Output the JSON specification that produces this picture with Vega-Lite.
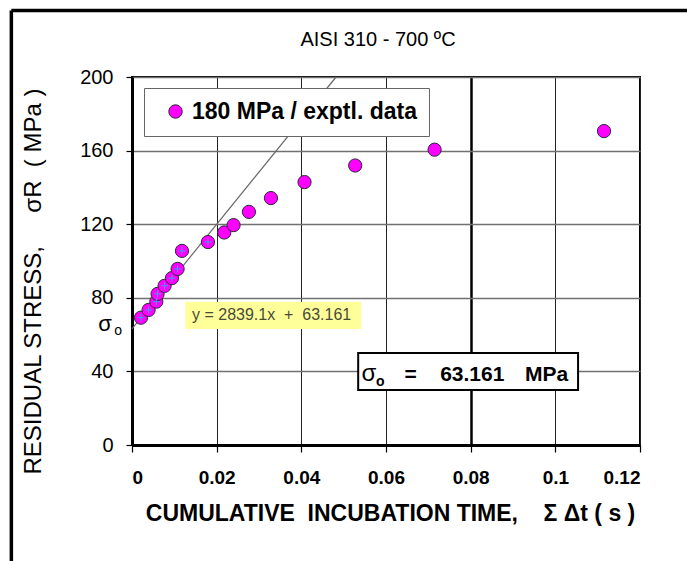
{
  "$schema": "https://vega.github.io/schema/vega-lite/v6.json",
  "width": 508,
  "height": 368,
  "autosize": "none",
  "padding": {"left": 132, "top": 77, "right": 47, "bottom": 116},
  "background": "white",
  "title": {"text": "AISI 310 - 700 ºC", "font": "Liberation Sans", "fontSize": 20, "fontWeight": "normal", "color": "black", "frame": "group", "anchor": "middle", "baseline": "middle", "offset": 0, "dx": -8, "dy": 51},
  "config": {"view": {"stroke": "black", "strokeWidth": 2}, "font": "Liberation Sans"},
  "datasets": {
    "pts": [
      {"t": 0.00212, "s": 69.2, "fit": true, "series": "180 MPa / exptl. data"},
      {"t": 0.00392, "s": 73.4, "fit": true, "series": "180 MPa / exptl. data"},
      {"t": 0.00574, "s": 77.9, "fit": true, "series": "180 MPa / exptl. data"},
      {"t": 0.00604, "s": 82.1, "fit": true, "series": "180 MPa / exptl. data"},
      {"t": 0.0077, "s": 86.5, "fit": true, "series": "180 MPa / exptl. data"},
      {"t": 0.00944, "s": 90.7, "fit": true, "series": "180 MPa / exptl. data"},
      {"t": 0.01077, "s": 95.7, "fit": true, "series": "180 MPa / exptl. data"},
      {"t": 0.0118, "s": 105.5, "fit": true, "series": "180 MPa / exptl. data"},
      {"t": 0.01794, "s": 110.3, "fit": true, "series": "180 MPa / exptl. data"},
      {"t": 0.02179, "s": 115.5, "fit": false, "series": "180 MPa / exptl. data"},
      {"t": 0.02399, "s": 119.5, "fit": false, "series": "180 MPa / exptl. data"},
      {"t": 0.02762, "s": 126.7, "fit": false, "series": "180 MPa / exptl. data"},
      {"t": 0.03282, "s": 134.2, "fit": false, "series": "180 MPa / exptl. data"},
      {"t": 0.04075, "s": 142.9, "fit": false, "series": "180 MPa / exptl. data"},
      {"t": 0.05272, "s": 151.9, "fit": false, "series": "180 MPa / exptl. data"},
      {"t": 0.07148, "s": 160.5, "fit": false, "series": "180 MPa / exptl. data"},
      {"t": 0.1115, "s": 170.6, "fit": false, "series": "180 MPa / exptl. data"}
    ],
    "trend": [
      {"t": 0, "s": 63.161},
      {"t": 0.0482, "s": 200}
    ],
    "one": [{}]
  },
  "layer": [
    {
      "data": {"name": "one"},
      "mark": {"type": "rule", "color": "black", "strokeWidth": 3.5},
      "encoding": {
        "x": {"datum": -0.0285, "type": "quantitative", "scale": {"domain": [0, 0.12], "nice": false}},
        "y": {"datum": -70, "type": "quantitative", "scale": {"domain": [0, 200], "nice": false}},
        "y2": {"datum": 236.1}
      }
    },
    {
      "data": {"name": "one"},
      "mark": {"type": "rule", "color": "black", "strokeWidth": 3.5},
      "encoding": {
        "x": {"datum": -0.0285, "type": "quantitative", "scale": {"domain": [0, 0.12], "nice": false}},
        "x2": {"datum": 0.2},
        "y": {"datum": 236.1, "type": "quantitative", "scale": {"domain": [0, 200], "nice": false}}
      }
    },
    {
      "data": {"name": "trend"},
      "mark": {"type": "line", "color": "#6a6a6a", "strokeWidth": 1.2},
      "encoding": {
        "x": {"field": "t", "type": "quantitative", "scale": {"domain": [0, 0.12], "nice": false}},
        "y": {"field": "s", "type": "quantitative", "scale": {"domain": [0, 200], "nice": false}}
      }
    },
    {
      "data": {"name": "pts"},
      "mark": {"type": "point", "shape": "circle", "filled": true, "opacity": 1, "size": 175, "stroke": "#2a2a3a", "strokeWidth": 1},
      "encoding": {
        "x": {
          "field": "t", "type": "quantitative",
          "scale": {"domain": [0, 0.12], "nice": false},
          "axis": {
            "values": [0, 0.02, 0.04, 0.06, 0.08, 0.1, 0.12],
            "format": "~g",
            "grid": true,
            "gridColor": {"condition": {"test": "datum.value == 0.08", "value": "black"}, "value": "#222222"},
            "gridWidth": {"condition": {"test": "datum.value == 0.08", "value": 2.5}, "value": 1},
            "domainColor": "black", "domainWidth": 3,
            "tickColor": "black", "tickSize": 7, "tickWidth": 1.2,
            "labelFont": "Liberation Sans", "labelFontSize": 19, "labelFontWeight": "bold", "labelColor": "black", "labelPadding": 16,
            "title": "CUMULATIVE\u00a0\u00a0INCUBATION TIME,\u00a0\u00a0\u00a0\u00a0Σ\u00a0Δt ( s )",
            "titleFont": "Liberation Sans", "titleFontSize": 23, "titleFontWeight": "bold", "titleColor": "black",
            "titleX": 258, "titleY": 68, "titleAlign": "center", "titleBaseline": "middle"
          }
        },
        "y": {
          "field": "s", "type": "quantitative",
          "scale": {"domain": [0, 200], "nice": false},
          "axis": {
            "values": [0, 20, 40, 60, 80, 100, 120, 140, 160, 180, 200],
            "labelExpr": "datum.value % 40 == 0 ? datum.label : ''",
            "tickOpacity": {"condition": {"test": "datum.value % 40 == 0", "value": 1}, "value": 0},
            "grid": true, "gridColor": "#707070", "gridWidth": 1.5,
            "domainColor": "black", "domainWidth": 3,
            "tickColor": "black", "tickSize": 6, "tickWidth": 1.2,
            "labelFont": "Liberation Sans", "labelFontSize": 20, "labelColor": "black", "labelPadding": 13,
            "title": "RESIDUAL STRESS,\u00a0\u00a0\u00a0\u00a0\u00a0σR\u00a0\u00a0( MPa )",
            "titleFont": "Liberation Sans", "titleFontSize": 24, "titleFontWeight": "normal", "titleColor": "black",
            "titleX": -99, "titleY": 204, "titleAngle": -90, "titleAlign": "center", "titleBaseline": "middle"
          }
        },
        "color": {
          "field": "series", "type": "nominal",
          "scale": {"range": ["#ff00ff"]},
          "legend": {
            "title": null, "orient": "none", "legendX": 12, "legendY": 11,
            "padding": 12, "fillColor": "white", "strokeColor": "#666666",
            "symbolType": "circle", "symbolSize": 180, "symbolStrokeColor": "#2a2a3a", "symbolStrokeWidth": 1, "symbolOffset": 8,
            "labelFont": "Liberation Sans", "labelFontSize": 23, "labelFontWeight": "bold", "labelColor": "black", "labelOffset": 5, "labelLimit": 400
          }
        }
      }
    },
    {
      "data": {"name": "pts"},
      "transform": [{"filter": "datum.fit"}],
      "mark": {"type": "point", "shape": "M-1,0L1,0M0,-1L0,1", "filled": false, "stroke": "#3b9cff", "strokeWidth": 1, "size": 50, "opacity": 1},
      "encoding": {
        "x": {"field": "t", "type": "quantitative", "scale": {"domain": [0, 0.12], "nice": false}},
        "y": {"field": "s", "type": "quantitative", "scale": {"domain": [0, 200], "nice": false}}
      }
    },
    {
      "data": {"name": "one"},
      "mark": {"type": "rect", "fill": "#ffff99"},
      "encoding": {
        "x": {"datum": 0.01258, "type": "quantitative", "scale": {"domain": [0, 0.12], "nice": false}},
        "x2": {"datum": 0.05413},
        "y": {"datum": 63.1, "type": "quantitative", "scale": {"domain": [0, 200], "nice": false}},
        "y2": {"datum": 77.8}
      }
    },
    {
      "data": {"name": "one"},
      "mark": {"type": "text", "text": "y = 2839.1x\u00a0\u00a0+\u00a0\u00a063.161", "font": "Liberation Sans", "fontSize": 16, "color": "#4a4a38", "align": "center", "baseline": "middle"},
      "encoding": {
        "x": {"datum": 0.03298, "type": "quantitative"},
        "y": {"datum": 70.4, "type": "quantitative"}
      }
    },
    {
      "data": {"name": "one"},
      "mark": {"type": "rect", "fill": "white", "stroke": "black", "strokeWidth": 2},
      "encoding": {
        "x": {"datum": 0.05343, "type": "quantitative", "scale": {"domain": [0, 0.12], "nice": false}},
        "x2": {"datum": 0.10537},
        "y": {"datum": 29.9, "type": "quantitative", "scale": {"domain": [0, 200], "nice": false}},
        "y2": {"datum": 50.04}
      }
    },
    {
      "data": {"name": "one"},
      "mark": {"type": "text", "text": "σ", "font": "Liberation Sans", "fontSize": 24, "color": "black", "align": "left", "baseline": "alphabetic"},
      "encoding": {"x": {"datum": 0.0542, "type": "quantitative"}, "y": {"datum": 34.6, "type": "quantitative"}}
    },
    {
      "data": {"name": "one"},
      "mark": {"type": "text", "text": "o", "font": "Liberation Sans", "fontSize": 14, "fontWeight": "bold", "color": "black", "align": "center", "baseline": "middle"},
      "encoding": {"x": {"datum": 0.05862, "type": "quantitative"}, "y": {"datum": 34.0, "type": "quantitative"}}
    },
    {
      "data": {"name": "one"},
      "mark": {"type": "text", "text": "=", "font": "Liberation Sans", "fontSize": 21, "fontWeight": "bold", "color": "black", "align": "center", "baseline": "alphabetic"},
      "encoding": {"x": {"datum": 0.06582, "type": "quantitative"}, "y": {"datum": 34.6, "type": "quantitative"}}
    },
    {
      "data": {"name": "one"},
      "mark": {"type": "text", "text": "63.161", "font": "Liberation Sans", "fontSize": 21, "fontWeight": "bold", "color": "black", "align": "left", "baseline": "alphabetic"},
      "encoding": {"x": {"datum": 0.07279, "type": "quantitative"}, "y": {"datum": 34.6, "type": "quantitative"}}
    },
    {
      "data": {"name": "one"},
      "mark": {"type": "text", "text": "MPa", "font": "Liberation Sans", "fontSize": 21, "fontWeight": "bold", "color": "black", "align": "left", "baseline": "alphabetic"},
      "encoding": {"x": {"datum": 0.09285, "type": "quantitative"}, "y": {"datum": 34.6, "type": "quantitative"}}
    },
    {
      "data": {"name": "one"},
      "mark": {"type": "text", "text": "σ", "font": "Liberation Sans", "fontSize": 22, "color": "black", "align": "center", "baseline": "middle"},
      "encoding": {"x": {"datum": -0.0064, "type": "quantitative"}, "y": {"datum": 65.6, "type": "quantitative"}}
    },
    {
      "data": {"name": "one"},
      "mark": {"type": "text", "text": "o", "font": "Liberation Sans", "fontSize": 14, "color": "black", "align": "center", "baseline": "middle"},
      "encoding": {"x": {"datum": -0.0033, "type": "quantitative"}, "y": {"datum": 61.8, "type": "quantitative"}}
    }
  ]
}
